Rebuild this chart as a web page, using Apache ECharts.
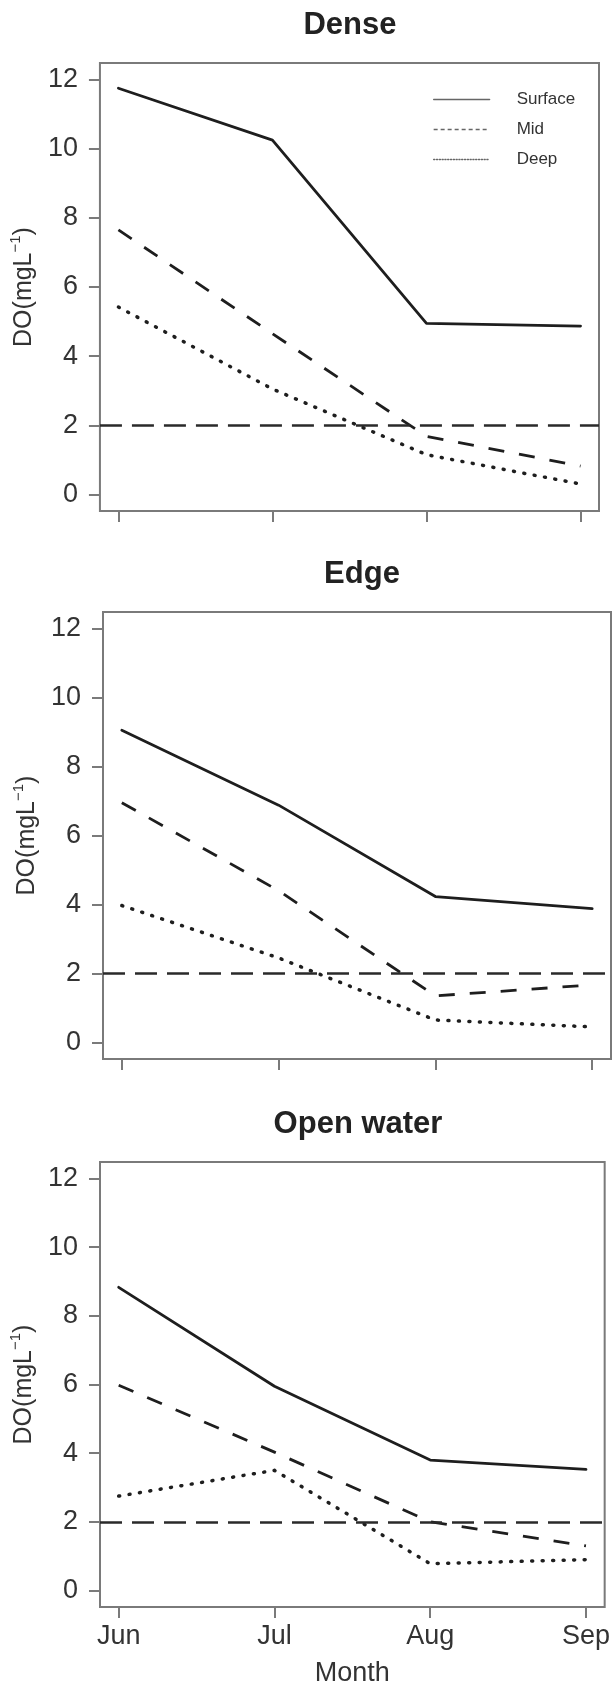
<!DOCTYPE html>
<html>
<head>
<meta charset="utf-8">
<script src="https://cdn.jsdelivr.net/npm/echarts@6/dist/echarts.min.js"></script>
<style>
html,body{margin:0;padding:0;background:#fff;}
#c{width:613px;height:1689px;}
</style>
</head>
<body>
<div id="c"></div>
<script>
// ---- data ----
var months = ['Jun', 'Jul', 'Aug', 'Sep'];
var yTicks = [0, 2, 4, 6, 8, 10, 12];
var panelTitles = ['Dense', 'Edge', 'Open water'];
var seriesNames = ['Surface', 'Mid', 'Deep'];
var denseSurface = [11.75, 10.25, 4.95, 4.87];
var denseMid     = [7.65, 4.65, 1.68, 0.82];
var denseDeep    = [5.42, 3.05, 1.15, 0.30];
var edgeSurface  = [9.05, 6.88, 4.23, 3.88];
var edgeMid      = [6.95, 4.40, 1.35, 1.67];
var edgeDeep     = [3.97, 2.45, 0.65, 0.45];
var openSurface  = [8.83, 5.95, 3.80, 3.53];
var openMid      = [5.98, 4.03, 2.00, 1.30];
var openDeep     = [2.75, 3.50, 0.78, 0.90];
var threshold = 2;

var panelData = [
  [denseSurface, denseMid, denseDeep],
  [edgeSurface, edgeMid, edgeDeep],
  [openSurface, openMid, openDeep]
];

// ---- layout / style ----
var boxes = [
  {left: 91, top: 63, width: 508, height: 448},
  {left: 103, top: 612, width: 508, height: 447},
  {left: 100, top: 1162, width: 506, height: 445}
];
var FONT = '"Liberation Sans", Arial, Helvetica, sans-serif';
var lineColor = '#1e1e1e';
var styles = [
  {type: 'solid', width: 2.8, cap: 'round'},
  {type: [16, 15], width: 2.8, cap: 'butt'},
  {type: [1, 9.5], width: 3.5, cap: 'round'}
];
var monthIdx = months.map(function (m, i) { return i; });

var chart = echarts.init(document.getElementById('c'), null, {renderer: 'canvas'});

var grids = [], xAxes = [], yAxes = [], series = [], titles = [];
boxes.forEach(function (b, p) {
  grids.push({left: b.left, top: b.top, width: b.width, height: b.height,
    show: true, borderColor: '#7a7a7a', borderWidth: 2, backgroundColor: 'transparent', containLabel: false});
  titles.push({text: panelTitles[p], left: b.left + b.width / 2, top: b.top - 58, textAlign: 'center',
    textStyle: {fontFamily: FONT, fontWeight: 'bold', fontSize: 31, color: '#222'}});
  var isLast = p === boxes.length - 1;
  xAxes.push({type: 'value', gridIndex: p, min: -0.12, max: 3.12, position: 'bottom',
    axisLine: {show: false, onZero: false}, splitLine: {show: false},
    axisTick: {show: true, inside: false, customValues: monthIdx, length: 11, lineStyle: {color: '#7a7a7a', width: 2}},
    axisLabel: {show: isLast, customValues: monthIdx, margin: 16, fontSize: 27, color: '#333', fontFamily: FONT,
      formatter: function (v) { return months[Math.round(v)] || ''; }},
    name: isLast ? 'Month' : '', nameLocation: 'middle', nameGap: 53,
    nameTextStyle: {fontSize: 27, color: '#333', fontFamily: FONT}
  });
  yAxes.push({type: 'value', gridIndex: p, min: -0.48, max: 12.48, position: 'left',
    axisLine: {show: false, onZero: false}, splitLine: {show: false},
    axisTick: {show: true, inside: false, customValues: yTicks, length: 11, lineStyle: {color: '#7a7a7a', width: 2}},
    axisLabel: {customValues: yTicks, margin: 22, fontSize: 27, color: '#333', fontFamily: FONT},
    name: '{a|DO(mgL}{s|\u22121}{a|)}', nameLocation: 'middle', nameRotate: 90, nameGap: 51,
    nameTextStyle: {fontFamily: FONT, color: '#333',
      rich: {a: {fontSize: 25, fontFamily: FONT, color: '#333', verticalAlign: 'bottom', lineHeight: 29},
             s: {fontSize: 15, fontFamily: FONT, color: '#333', verticalAlign: 'top', lineHeight: 29}}}
  });
  panelData[p].forEach(function (vals, k) {
    var s = {
      name: seriesNames[k], type: 'line', xAxisIndex: p, yAxisIndex: p,
      data: vals.map(function (v, i) { return [monthIdx[i], v]; }),
      symbol: 'none', showSymbol: false, silent: true, animation: false, clip: false,
      lineStyle: {color: lineColor, width: styles[k].width, type: styles[k].type, cap: styles[k].cap, join: 'round'},
      itemStyle: {color: lineColor}
    };
    if (k === 0) {
      s.markLine = {silent: true, symbol: 'none', animation: false, label: {show: false},
        lineStyle: {color: '#2a2a2a', width: 2.6, type: [22, 10]},
        data: [{yAxis: threshold}]};
    }
    series.push(s);
  });
});

chart.setOption({
  backgroundColor: '#fff',
  animation: false,
  title: titles,
  grid: grids,
  xAxis: xAxes,
  yAxis: yAxes,
  legend: {
    show: true,
    orient: 'vertical', left: 428, top: 86, itemWidth: 56, itemHeight: 18, itemGap: 13,
    selectedMode: false,
    textStyle: {fontFamily: FONT, fontSize: 17, color: '#333', padding: [0, 0, 0, 22]},
    lineStyle: {width: 1.3, color: '#666'},
    itemStyle: {opacity: 0, color: 'rgba(0,0,0,0)', borderWidth: 0},
    data: [
      {name: 'Surface', lineStyle: {type: 'solid'}},
      {name: 'Mid', lineStyle: {type: [4, 3]}},
      {name: 'Deep', lineStyle: {type: [1.2, 1.6]}}
    ]
  },
  series: series
});
</script>
</body>
</html>
